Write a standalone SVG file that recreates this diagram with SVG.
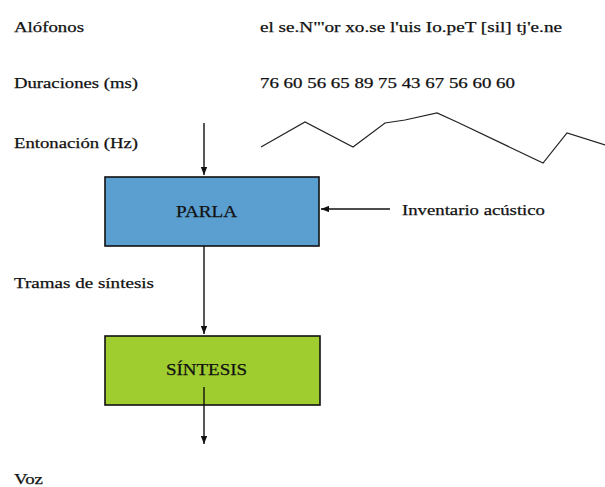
<svg xmlns="http://www.w3.org/2000/svg" width="605" height="487" viewBox="0 0 605 487">
  <style>
    text { font-family: "Liberation Serif", "Times New Roman", serif; font-size: 15px; fill: #111; stroke: #111; stroke-width: 0.25; }
    .box { stroke: #111; stroke-width: 1.6; }
    .title { font-size: 17px; }
    .wire { stroke: #111; stroke-width: 1.4; fill: none; }
    .contour { stroke: #222; stroke-width: 1.2; fill: none; stroke-linejoin: miter; }
  </style>
  <defs>
    <marker id="head" viewBox="0 0 10 8" refX="10" refY="4" markerWidth="8" markerHeight="6.4" markerUnits="userSpaceOnUse" orient="auto">
      <path d="M0,0 L10,4 L0,8 Z" fill="#111"/>
    </marker>
  </defs>

  <rect width="605" height="487" fill="#ffffff"/>

  <!-- row labels -->
  <g id="labels">
    <text x="14" y="32" textLength="70" lengthAdjust="spacingAndGlyphs">Alófonos</text>
    <text x="14" y="88" textLength="124" lengthAdjust="spacingAndGlyphs">Duraciones (ms)</text>
    <text x="14" y="148" textLength="124" lengthAdjust="spacingAndGlyphs">Entonación (Hz)</text>
    <text x="14" y="288" textLength="140" lengthAdjust="spacingAndGlyphs">Tramas de síntesis</text>
    <text x="14" y="484" textLength="29" lengthAdjust="spacingAndGlyphs">Voz</text>
  </g>

  <!-- phonetic transcription and durations -->
  <g id="values">
    <text x="260" y="32" textLength="302" lengthAdjust="spacingAndGlyphs">el se.N"'or xo.se l'uis Io.peT [sil] tj'e.ne</text>
    <text x="260" y="88" textLength="255" lengthAdjust="spacingAndGlyphs">76 60 56 65 89 75 43 67 56 60 60</text>
  </g>

  <!-- intonation contour -->
  <g id="contour">
    <polyline class="contour" points="261,147 305,122 353,147 385,123 405,120 437,113 457,122 543,163 567,133 605,145"/>
  </g>

  <!-- PARLA block -->
  <g id="parla">
    <rect class="box" x="105" y="177" width="214" height="69" fill="#5b9fd0"/>
    <text class="title" x="176" y="217" textLength="61" lengthAdjust="spacingAndGlyphs">PARLA</text>
  </g>

  <!-- acoustic inventory input -->
  <g id="inventario">
    <text x="402" y="215" textLength="143" lengthAdjust="spacingAndGlyphs">Inventario acústico</text>
  </g>

  <!-- SÍNTESIS block -->
  <g id="sintesis">
    <rect class="box" x="105" y="336" width="215" height="69" fill="#9fcc2e"/>
    <text class="title" x="166" y="375" textLength="81" lengthAdjust="spacingAndGlyphs">SÍNTESIS</text>
  </g>

  <!-- connectors -->
  <g id="connectors">
    <line class="wire" x1="204" y1="123" x2="204" y2="175" marker-end="url(#head)"/>
    <line class="wire" x1="390" y1="209" x2="321" y2="209" marker-end="url(#head)"/>
    <line class="wire" x1="204" y1="246" x2="204" y2="334" marker-end="url(#head)"/>
    <line class="wire" x1="204" y1="387" x2="204" y2="444" marker-end="url(#head)"/>
  </g>
</svg>
